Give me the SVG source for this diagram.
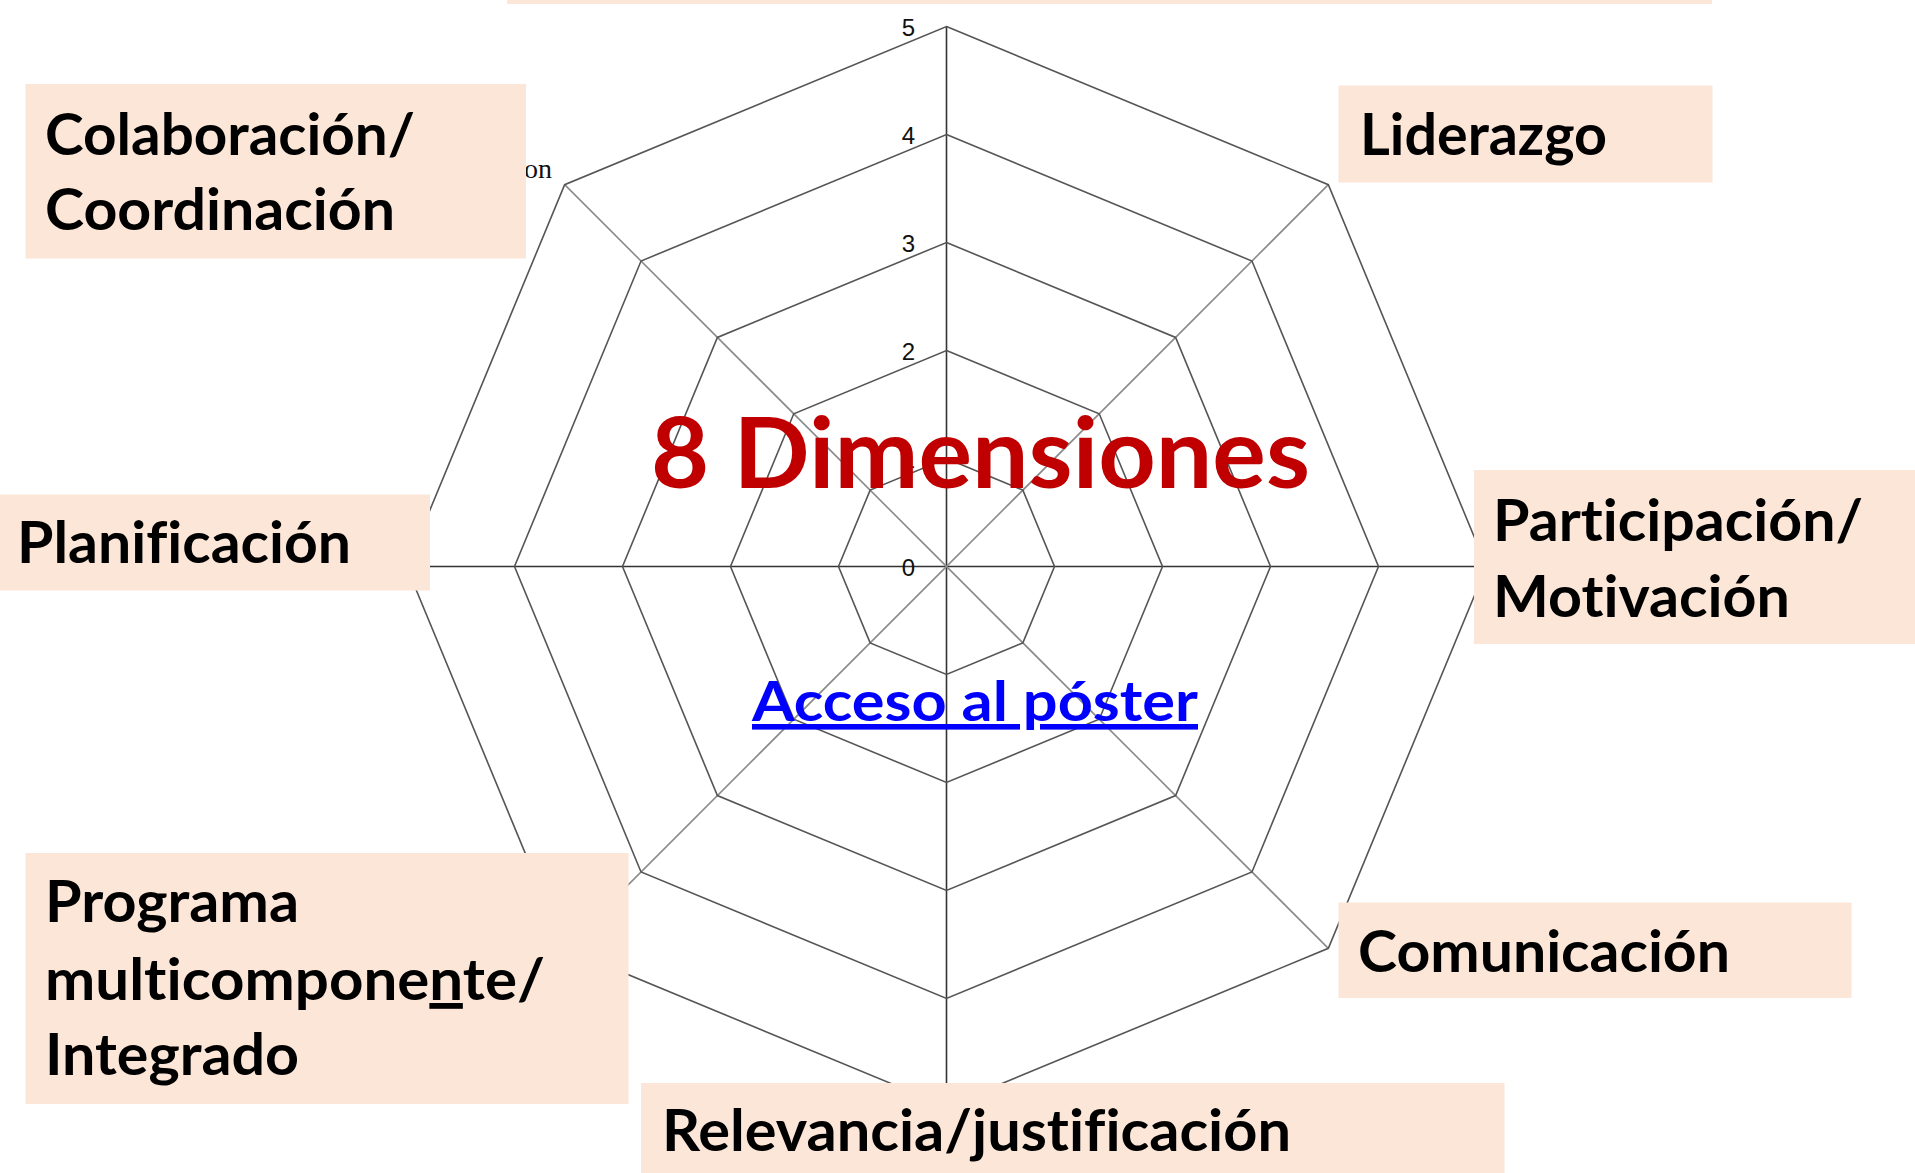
<svg xmlns="http://www.w3.org/2000/svg" width="1915" height="1173" viewBox="0 0 1915 1173">
<style>
text{font-variant-ligatures:none;font-feature-settings:"liga" 0,"clig" 0}
.ring{fill:none;stroke:#555;stroke-width:1.6}
.axis{stroke:#333;stroke-width:1.6}
.diag{stroke:#8a8a8a;stroke-width:1.6}
.tick{font-family:"Liberation Sans",Arial,sans-serif;font-size:24px;fill:#111;text-anchor:end}
.box{fill:#FBE6D8}
.lbl{font-family:Lato,"Open Sans","Liberation Sans",sans-serif;font-weight:700;font-size:58px;fill:#000}
</style>
<rect width="1915" height="1173" fill="#fff"/>
<g id="connectors">
<line class="axis" x1="946.5" y1="26.5" x2="946.5" y2="1106.5"/>
<line class="axis" x1="406.5" y1="566.5" x2="1486.5" y2="566.5"/>
<line class="diag" x1="564.66" y1="184.66" x2="1328.34" y2="948.34"/>
<line class="diag" x1="1328.34" y1="184.66" x2="564.66" y2="948.34"/>
<polygon class="ring" points="946.5,458.5 1022.87,490.13 1054.5,566.5 1022.87,642.87 946.5,674.5 870.13,642.87 838.5,566.5 870.13,490.13"/>
<polygon class="ring" points="946.5,350.5 1099.24,413.76 1162.5,566.5 1099.24,719.24 946.5,782.5 793.76,719.24 730.5,566.5 793.76,413.76"/>
<polygon class="ring" points="946.5,242.5 1175.6,337.4 1270.5,566.5 1175.6,795.6 946.5,890.5 717.4,795.6 622.5,566.5 717.4,337.4"/>
<polygon class="ring" points="946.5,134.5 1251.97,261.03 1378.5,566.5 1251.97,871.97 946.5,998.5 641.03,871.97 514.5,566.5 641.03,261.03"/>
<polygon class="ring" points="946.5,26.5 1328.34,184.66 1486.5,566.5 1328.34,948.34 946.5,1106.5 564.66,948.34 406.5,566.5 564.66,184.66"/>
</g>
<g id="ticks">
<text class="tick" x="915" y="575.5">0</text>
<text class="tick" x="915" y="467.5">1</text>
<text class="tick" x="915" y="359.5">2</text>
<text class="tick" x="915" y="251.5">3</text>
<text class="tick" x="915" y="143.5">4</text>
<text class="tick" x="915" y="35.5">5</text>
</g>
<text x="552" y="178" font-family="'Liberation Serif',serif" font-size="28" text-anchor="end" fill="#111">on</text>
<g id="top-box"><rect class="box" x="507" y="0" width="1205" height="4"/></g>
<g id="colaboracion">
<rect class="box" x="25.5" y="84" width="500.5" height="174.5"/>
<text class="lbl" x="45" y="155" textLength="370" lengthAdjust="spacingAndGlyphs">Colaboración/</text>
<text class="lbl" x="45" y="230" textLength="350" lengthAdjust="spacingAndGlyphs">Coordinación</text>
</g>
<g id="liderazgo">
<rect class="box" x="1338.5" y="85.5" width="374" height="97"/>
<text class="lbl" x="1360" y="155" textLength="247" lengthAdjust="spacingAndGlyphs">Liderazgo</text>
</g>
<g id="participacion">
<rect class="box" x="1474" y="470" width="441" height="174"/>
<text class="lbl" x="1493" y="541" textLength="370" lengthAdjust="spacingAndGlyphs">Participación/</text>
<text class="lbl" x="1493" y="617" textLength="297" lengthAdjust="spacingAndGlyphs">Motivación</text>
</g>
<g id="planificacion">
<rect class="box" x="0" y="494.5" width="430" height="96"/>
<text class="lbl" x="17" y="563" textLength="334" lengthAdjust="spacingAndGlyphs">Planificación</text>
</g>
<g id="programa">
<rect class="box" x="25.5" y="853" width="603" height="251"/>
<text class="lbl" x="45" y="922" textLength="254" lengthAdjust="spacingAndGlyphs">Programa</text>
<text class="lbl" x="45" y="1000" textLength="500" lengthAdjust="spacingAndGlyphs">multicompone<tspan text-decoration="underline">n</tspan>te/</text>
<text class="lbl" x="45" y="1075" textLength="254" lengthAdjust="spacingAndGlyphs">Integrado</text>
</g>
<g id="comunicacion">
<rect class="box" x="1338.5" y="902.5" width="513" height="95.5"/>
<text class="lbl" x="1358" y="972" textLength="372" lengthAdjust="spacingAndGlyphs">Comunicación</text>
</g>
<g id="relevancia">
<rect class="box" x="641" y="1083" width="863.5" height="90"/>
<text class="lbl" x="662" y="1151" textLength="629" lengthAdjust="spacingAndGlyphs">Relevancia/justificación</text>
</g>
<g id="title">
<text x="651" y="488" font-family="Lato,'Open Sans','Liberation Sans',sans-serif" font-weight="700" font-size="98" fill="#C00000" textLength="659" lengthAdjust="spacingAndGlyphs">8 Dimensiones</text>
</g>
<g id="link">
<text x="752" y="721" font-family="Lato,'Open Sans','Liberation Sans',sans-serif" font-weight="700" font-size="56" fill="#0000FF" text-decoration="underline" textLength="446" lengthAdjust="spacingAndGlyphs">Acceso al póster</text>
</g>
</svg>
